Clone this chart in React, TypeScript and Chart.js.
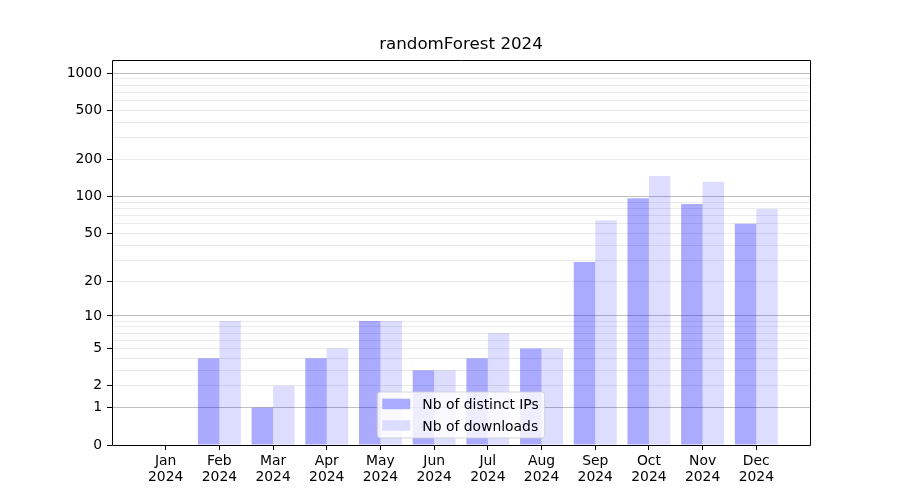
import React, { useEffect, useRef } from 'react';
import { Chart, registerables } from 'chart.js';

Chart.register(...registerables);

const titleText = 'randomForest 2024';
const months = ['Jan', 'Feb', 'Mar', 'Apr', 'May', 'Jun', 'Jul', 'Aug', 'Sep', 'Oct', 'Nov', 'Dec'];
const yearLabel = '2024';
const distinctIPs = [0, 4, 1, 4, 9, 3, 4, 5, 29, 97, 87, 60];
const downloads = [0, 9, 2, 5, 9, 3, 7, 5, 64, 147, 132, 79];
const labeledYTicks = [0, 1, 2, 5, 10, 20, 50, 100, 200, 500, 1000];
const decadeYTicks = [1, 10, 100, 1000];
const minorMultipliers = [2, 3, 4, 5, 6, 7, 8, 9];
const yTopValue = 1273;

const FONT = '"DejaVu Sans", "Liberation Sans", sans-serif';

// y transform: log10(1 + v)
const tf = (v: number) => Math.log10(1 + v);

function buildYTicks() {
  const vals: number[] = [0, ...decadeYTicks];
  for (const d of [1, 10, 100]) for (const m of minorMultipliers) vals.push(d * m);
  vals.sort((a, b) => a - b);
  return vals.map((v) => ({
    value: tf(v),
    lbl: labeledYTicks.includes(v) ? String(v) : '',
    isMajor: decadeYTicks.includes(v),
    raw: v,
  }));
}

const framePlugin = {
  id: 'frame',
  afterDatasetsDraw(chart: any) {
    const { ctx, chartArea: ca } = chart;
    ctx.save();
    ctx.strokeStyle = '#000';
    ctx.lineWidth = 1;
    const l = Math.round(ca.left) + 0.5;
    const r = Math.round(ca.right) + 0.5;
    const t = Math.round(ca.top) + 0.5;
    const b = Math.round(ca.bottom) + 0.5;
    ctx.beginPath();
    ctx.moveTo(l, t);
    ctx.lineTo(r, t);
    ctx.lineTo(r, b);
    ctx.lineTo(l, b);
    ctx.lineTo(l, t);
    ctx.stroke();
    ctx.restore();
  },
};

const legendPlugin = {
  id: 'insideLegend',
  afterDraw(chart: any) {
    const { ctx, chartArea: ca } = chart;
    const items = chart.data.datasets.map((d: any) => ({ label: d.label, color: d.legendColor }));
    ctx.save();
    ctx.font = `13.9px ${FONT}`;
    let textW = 0;
    for (const it of items) textW = Math.max(textW, ctx.measureText(it.label).width);
    const boxW = 5 + 28 + 12 + textW + 6;
    const boxH = 46;
    const cx = (ca.left + ca.right) / 2;
    const x0 = cx - boxW / 2;
    const y0 = ca.bottom - 7 - boxH;
    const rad = 3;
    ctx.beginPath();
    ctx.moveTo(x0 + rad, y0);
    ctx.lineTo(x0 + boxW - rad, y0);
    ctx.arcTo(x0 + boxW, y0, x0 + boxW, y0 + rad, rad);
    ctx.lineTo(x0 + boxW, y0 + boxH - rad);
    ctx.arcTo(x0 + boxW, y0 + boxH, x0 + boxW - rad, y0 + boxH, rad);
    ctx.lineTo(x0 + rad, y0 + boxH);
    ctx.arcTo(x0, y0 + boxH, x0, y0 + boxH - rad, rad);
    ctx.lineTo(x0, y0 + rad);
    ctx.arcTo(x0, y0, x0 + rad, y0, rad);
    ctx.closePath();
    ctx.fillStyle = 'rgba(255,255,255,0.8)';
    ctx.fill();
    ctx.strokeStyle = 'rgba(204,204,204,0.8)';
    ctx.lineWidth = 1;
    ctx.stroke();
    items.forEach((it: any, i: number) => {
      const rowTop = y0 + 6.7 + i * 21.5;
      ctx.fillStyle = it.color;
      ctx.fillRect(x0 + 5, rowTop, 28, 10.5);
      ctx.fillStyle = '#000';
      ctx.textBaseline = 'alphabetic';
      ctx.textAlign = 'left';
      ctx.fillText(it.label, x0 + 45, rowTop + 10.5);
    });
    ctx.restore();
  },
};

export default function App() {
  const canvasRef = useRef<HTMLCanvasElement | null>(null);

  useEffect(() => {
    if (!canvasRef.current) return;
    const yTicks = buildYTicks();
    const chart = new Chart(canvasRef.current, {
      type: 'bar',
      data: {
        datasets: [
          {
            label: 'Nb of distinct IPs',
            data: distinctIPs.map((v, i) => ({ x: i, y: tf(v) })),
            backgroundColor: 'rgba(0,0,255,0.333)',
            legendColor: '#aaaaff',
            borderWidth: 0,
          } as any,
          {
            label: 'Nb of downloads',
            data: downloads.map((v, i) => ({ x: i, y: tf(v) })),
            backgroundColor: 'rgba(0,0,255,0.133)',
            legendColor: '#ddddff',
            borderWidth: 0,
          } as any,
        ],
      },
      options: {
        responsive: false,
        animation: false,
        devicePixelRatio: 1,
        layout: { padding: { left: 0, right: 90, top: 0, bottom: 0 } },
        datasets: {
          bar: { categoryPercentage: 0.8, barPercentage: 1.0 },
        },
        plugins: {
          legend: { display: false },
          tooltip: { enabled: false },
          title: {
            display: true,
            text: titleText,
            fullSize: false,
            color: '#000',
            font: { family: FONT, size: 16.7, weight: 'normal', lineHeight: 1.2 },
            padding: { top: 35, bottom: 5 },
          } as any,
        },
        scales: {
          x: {
            type: 'linear',
            min: -1,
            max: 12,
            offset: false,
            afterBuildTicks: (axis: any) => {
              axis.ticks = months.map((_, i) => ({ value: i }));
            },
            afterFit: (scale: any) => {
              scale.height = 55;
            },
            ticks: {
              autoSkip: false,
              maxRotation: 0,
              minRotation: 0,
              padding: 4,
              color: '#000',
              font: { family: FONT, size: 13.9, lineHeight: 1.1 },
              callback: (_v: any, index: number) => [months[index], yearLabel],
            },
            grid: {
              display: true,
              offset: false,
              drawOnChartArea: false,
              drawTicks: true,
              tickLength: 5,
              tickColor: '#000',
              color: '#000',
            },
            border: { display: false },
          },
          y: {
            type: 'linear',
            min: 0,
            max: tf(yTopValue),
            afterBuildTicks: (axis: any) => {
              axis.ticks = yTicks.map((t) => ({ ...t }));
            },
            afterFit: (scale: any) => {
              scale.width = 112;
            },
            ticks: {
              autoSkip: false,
              padding: 5,
              color: '#000',
              font: { family: FONT, size: 13.9 },
              callback: (_v: any, index: number, ticks: any[]) => ticks[index].lbl,
            },
            grid: {
              display: true,
              drawTicks: true,
              tickLength: 5,
              lineWidth: 1,
              color: (ctx: any) => {
                const t = ctx.tick;
                if (!t || t.raw === 0) return 'rgba(0,0,0,0)';
                return t.isMajor ? '#bfbfbf' : '#ebebeb';
              },
              tickColor: (ctx: any) => {
                const t = ctx.tick;
                return t && t.lbl ? '#000' : 'rgba(0,0,0,0)';
              },
            },
            border: { display: false },
          },
        },
      } as any,
      plugins: [framePlugin, legendPlugin],
    });
    return () => chart.destroy();
  }, []);

  return (
    <div style={{ position: 'fixed', left: 0, top: 0, width: 900, height: 500, background: '#fff' }}>
      <canvas ref={canvasRef} width={900} height={500} style={{ display: 'block' }} />
    </div>
  );
}
